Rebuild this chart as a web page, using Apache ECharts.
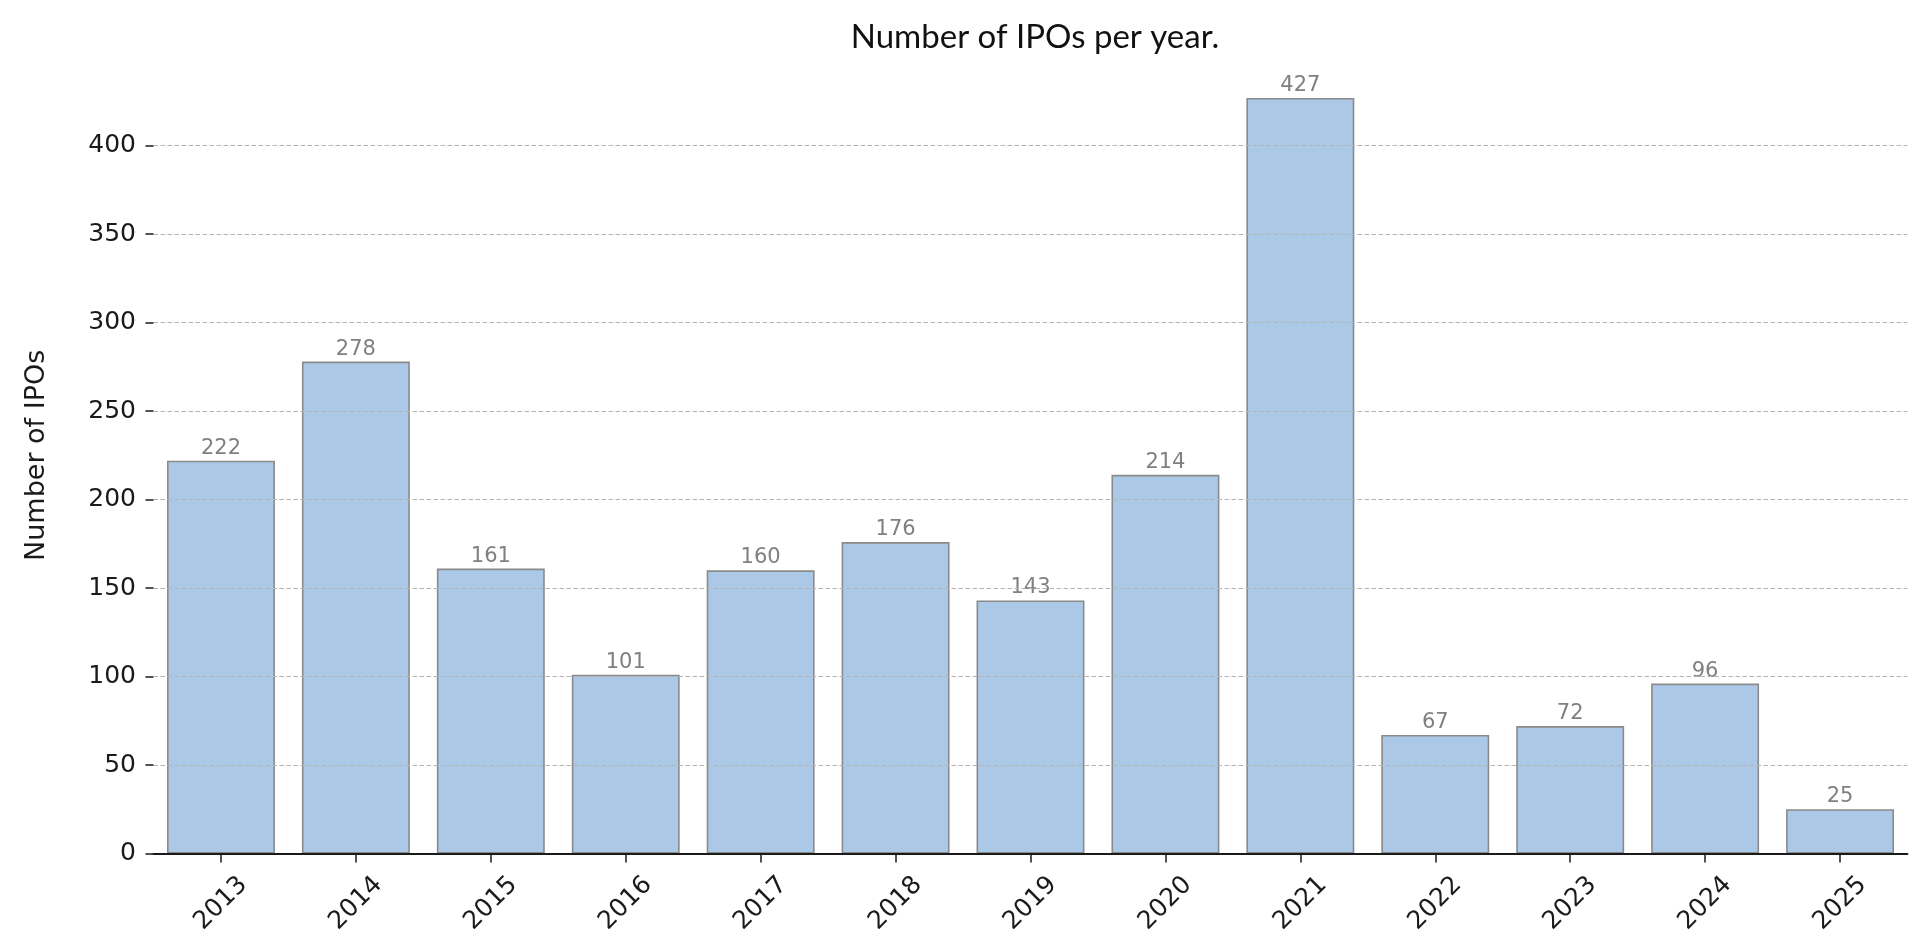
<!DOCTYPE html>
<html>
<head>
<meta charset="utf-8">
<script src="https://cdn.jsdelivr.net/npm/echarts@6/dist/echarts.min.js"></script>
<style>
html,body{margin:0;padding:0;background:#fff;}
#chart{width:1920px;height:944px;}
</style>
</head>
<body>
<div id="chart"></div>
<script>
const years = ['2013','2014','2015','2016','2017','2018','2019','2020','2021','2022','2023','2024','2025'];
const ipoCounts = [222, 278, 161, 101, 160, 176, 143, 214, 427, 67, 72, 96, 25];
const titleText = 'Number of IPOs per year.';
const yAxisName = 'Number of IPOs';

const chart = echarts.init(document.getElementById('chart'), null, {renderer: 'canvas'});
chart.setOption({
  backgroundColor: '#ffffff',
  animation: false,
  title: {
    text: titleText,
    left: 1030,
    top: 16,
    textAlign: 'center',
    textStyle: {fontFamily: 'Lato', fontSize: 33, fontWeight: 'normal', color: '#111'}
  },
  grid: {
    left: 153.5, right: 12.5, top: 57.2, bottom: 90.5,
    containLabel: false,
    outerBoundsMode: 'none'
  },
  xAxis: {
    type: 'category',
    data: years,
    boundaryGap: true,
    z: 4,
    axisLine: {show: true, lineStyle: {color: '#1a1a1a', width: 1.8}},
    axisTick: {show: true, alignWithLabel: true, length: 9, lineStyle: {color: '#1a1a1a', width: 1.5}},
    axisLabel: {
      interval: 0, rotate: 45, align: 'center', verticalAlign: 'middle', margin: 50,
      fontFamily: 'DejaVu Sans', fontSize: 25, color: '#1a1a1a'
    },
    splitLine: {show: false}
  },
  yAxis: {
    type: 'value',
    min: 0, max: 450, interval: 50,
    z: 3,
    name: yAxisName,
    nameLocation: 'middle',
    nameRotate: 90,
    nameGap: 103,
    nameTextStyle: {fontFamily: 'DejaVu Sans', fontSize: 27, color: '#1a1a1a'},
    axisLine: {show: false},
    axisTick: {show: true, length: 8, lineStyle: {color: '#1a1a1a', width: 1.5}},
    axisLabel: {
      showMaxLabel: false, margin: 17.5,
      fontFamily: 'DejaVu Sans', fontSize: 25, color: '#1a1a1a'
    },
    splitLine: {
      show: true, showMaxLine: false, showMinLine: false,
      lineStyle: {color: '#b4b4b4', width: 1, type: [4.5, 2.5]}
    }
  },
  series: [{
    type: 'bar',
    data: ipoCounts,
    barWidth: '80%',
    itemStyle: {color: '#abc8e7', borderColor: '#8a8a8a', borderWidth: 1.6},
    label: {
      show: true, position: 'top', distance: 2,
      fontFamily: 'DejaVu Sans', fontSize: 21, color: '#808080'
    }
  }]
});
</script>
</body>
</html>
